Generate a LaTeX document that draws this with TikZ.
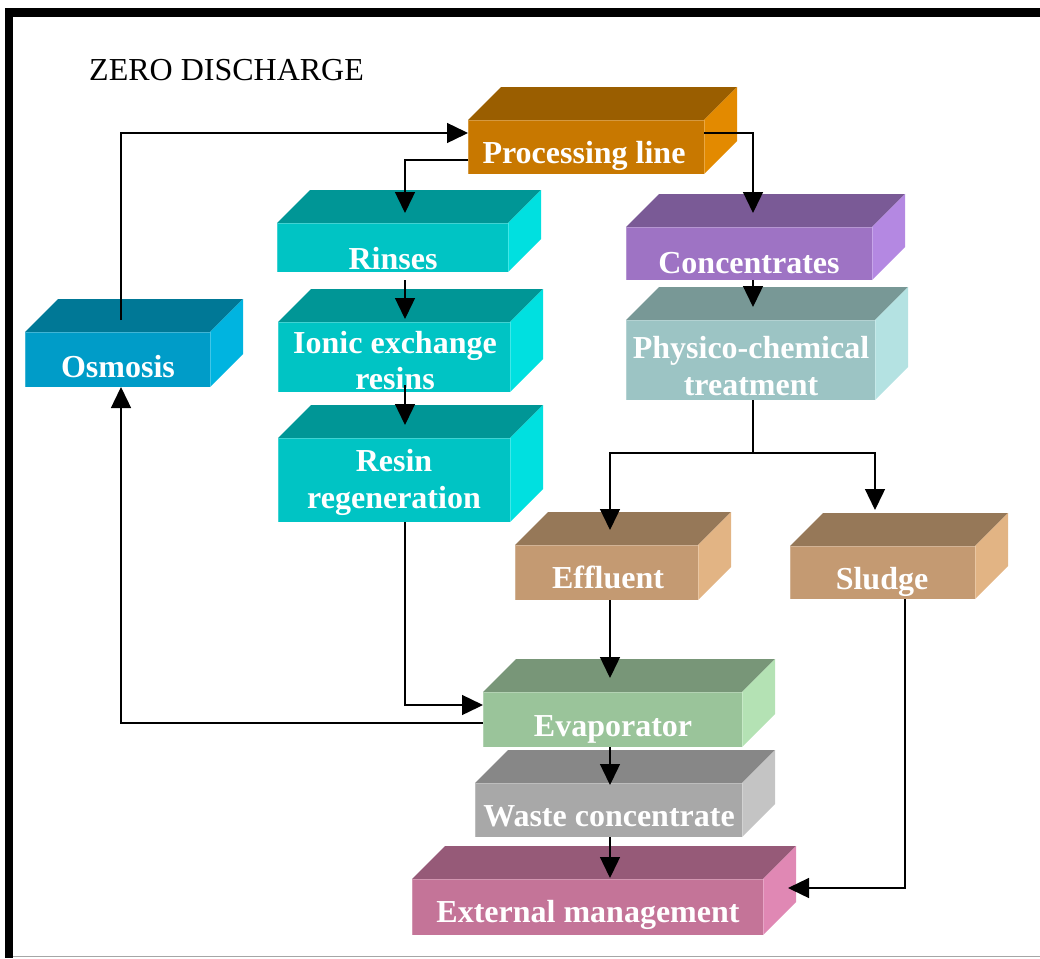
\documentclass[tikz,border=0pt]{standalone}
\usepackage{fontspec}
\setmainfont{Liberation Serif}
\usetikzlibrary{arrows.meta,calc}
\definecolor{procF}{RGB}{200,120,0}\definecolor{procT}{RGB}{154,94,0}\definecolor{procS}{RGB}{227,138,0}
\definecolor{cyanF}{RGB}{0,196,196}\definecolor{cyanT}{RGB}{0,150,150}\definecolor{cyanS}{RGB}{0,224,224}
\definecolor{osmF}{RGB}{0,156,200}\definecolor{osmT}{RGB}{0,120,150}\definecolor{osmS}{RGB}{0,180,224}
\definecolor{concF}{RGB}{158,115,196}\definecolor{concT}{RGB}{122,90,150}\definecolor{concS}{RGB}{180,136,226}
\definecolor{physF}{RGB}{156,196,196}\definecolor{physT}{RGB}{120,152,150}\definecolor{physS}{RGB}{180,226,226}
\definecolor{brF}{RGB}{196,154,114}\definecolor{brT}{RGB}{150,120,88}\definecolor{brS}{RGB}{226,180,132}
\definecolor{evF}{RGB}{154,196,154}\definecolor{evT}{RGB}{120,150,120}\definecolor{evS}{RGB}{180,226,180}
\definecolor{waF}{RGB}{168,168,168}\definecolor{waT}{RGB}{135,135,135}\definecolor{waS}{RGB}{196,196,196}
\definecolor{exF}{RGB}{196,116,152}\definecolor{exT}{RGB}{150,90,120}\definecolor{exS}{RGB}{224,136,180}
\tikzset{
  cubefront/.style={anchor=north west, inner sep=0pt, outer sep=0pt, draw=white, draw opacity=0.25, line width=0.8pt},
  boxtext/.style={anchor=base, inner sep=0pt, text=white, font=\bfseries\fontsize{32}{36}\selectfont},
  arr/.style={line width=1.4pt, -{Triangle[length=21pt,width=20pt]}},
  conn/.style={line width=1.4pt}
}
\newcommand\cubebox[8]{%
  \fill[#7] (#2pt,-#3pt) -- ++(33pt,33pt) -- ++(#4pt,0pt) -- ++(-33pt,-33pt) -- cycle;
  \fill[#8] (#2pt+#4pt,-#3pt) -- ++(33pt,33pt) -- ++(0pt,-#5pt) -- ++(-33pt,-33pt) -- cycle;
  \node[cubefront, fill=#6, minimum width=#4pt, minimum height=#5pt] (#1) at (#2,#3) {};
}
\begin{document}
\begin{tikzpicture}[x=1pt,y=-1pt]
\useasboundingbox (0,0) rectangle (1040,958);
% frame
\draw[line width=8.5pt, line join=miter] (1040,12.5) -- (9,12.5) -- (9,958);
\draw[black!35, line width=1pt] (13,956) -- (1040,956);
\node[anchor=base west, inner sep=0pt, font=\fontsize{32}{36}\selectfont] (title) at (89,81) {ZERO DISCHARGE};

% boxes
\cubebox{proc}{468}{120}{236}{54}{procF}{procT}{procS}
\cubebox{rinses}{277}{223}{231}{49}{cyanF}{cyanT}{cyanS}
\cubebox{ionic}{278}{322}{232}{70}{cyanF}{cyanT}{cyanS}
\cubebox{regen}{278}{438}{232}{84}{cyanF}{cyanT}{cyanS}
\cubebox{osm}{25}{332}{185}{55}{osmF}{osmT}{osmS}
\cubebox{conc}{626}{227}{246}{53}{concF}{concT}{concS}
\cubebox{phys}{626}{320}{249}{80}{physF}{physT}{physS}
\cubebox{effl}{515}{545}{183}{55}{brF}{brT}{brS}
\cubebox{sludge}{790}{546}{185}{53}{brF}{brT}{brS}
\cubebox{evap}{483}{692}{259}{55}{evF}{evT}{evS}
\cubebox{waste}{475}{783}{267}{54}{waF}{waT}{waS}
\cubebox{ext}{412}{879}{351}{56}{exF}{exT}{exS}

% labels
\node[boxtext] (proc-t) at (584,163) {Processing line};
\node[boxtext] (rinses-t) at (393,269) {Rinses};
\node[boxtext] (ionic-t1) at (395,353) {Ionic exchange};
\node[boxtext] (ionic-t2) at (395,389) {resins};
\node[boxtext] (regen-t1) at (394,471) {Resin};
\node[boxtext] (regen-t2) at (394,508) {regeneration};
\node[boxtext] (osm-t) at (118,377) {Osmosis};
\node[boxtext] (conc-t) at (749,273) {Concentrates};
\node[boxtext] (phys-t1) at (751,358) {Physico-chemical};
\node[boxtext] (phys-t2) at (751,395) {treatment};
\node[boxtext] (effl-t) at (608,588) {Effluent};
\node[boxtext] (sludge-t) at (882,589) {Sludge};
\node[boxtext] (evap-t) at (613,736) {Evaporator};
\node[boxtext] (waste-t) at (609,826) {Waste concentrate};
\node[boxtext] (ext-t) at (588,922) {External management};

% connectors
\coordinate (split) at (753,453);
\draw[arr] ($(osm.north west)+(96pt,12pt)$) |- (proc.west |- 0,133);
\draw[arr] (proc.west |- 0,160) -| ($(rinses.north west)+(128pt,10pt)$);
\draw[arr] (proc.east |- 0,133) -| ($(conc.north west)+(127pt,14pt)$);
\draw[arr] ($(rinses.south west)+(128pt,-8pt)$) -- ($(ionic.north west)+(127pt,3pt)$);
\draw[arr] ($(ionic.south west)+(127pt,7pt)$) -- ($(regen.north west)+(127pt,13pt)$);
\draw[arr] ($(conc.south west)+(127pt,0pt)$) -- ($(phys.north west)+(127pt,13pt)$);
\draw[conn] ($(phys.south west)+(127pt,0pt)$) -- (split);
\draw[arr] (split) -| ($(effl.north west)+(95pt,15pt)$);
\draw[arr] (split) -| ($(sludge.north west)+(85pt,36pt)$);
\draw[arr] ($(effl.south west)+(95pt,0pt)$) -- ($(evap.north west)+(127pt,14pt)$);
\draw[arr] ($(regen.south west)+(127pt,0pt)$) |- (evap.west |- 0,705);
\draw[arr] (evap.west |- 0,723) -| ($(osm.south west)+(96pt,0pt)$);
\draw[arr] ($(evap.south west)+(127pt,0pt)$) -- ($(waste.north west)+(135pt,-2pt)$);
\draw[arr] ($(waste.south west)+(135pt,0pt)$) -- ($(ext.north west)+(198pt,1pt)$);
\draw[arr] ($(sludge.south west)+(115pt,0pt)$) |- ($(ext.north east)+(25pt,-9pt)$);
\end{tikzpicture}
\end{document}
